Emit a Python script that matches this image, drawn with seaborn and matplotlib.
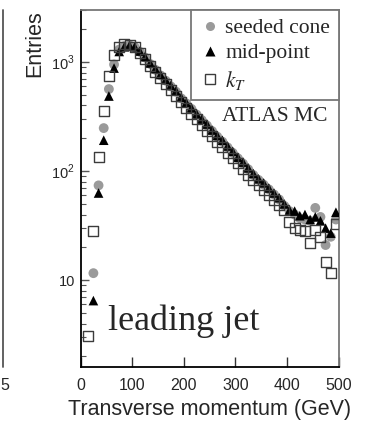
import numpy as np
import pandas as pd
import matplotlib
matplotlib.use("Agg")
import matplotlib.pyplot as plt
from matplotlib.lines import Line2D
from matplotlib.font_manager import FontProperties
import matplotlib.ticker as mticker
import seaborn as sns

# ---- data ----
pt_bins = [15, 25, 35, 45, 55, 65, 75, 85, 95, 105, 115, 125, 135, 145, 155, 165,
           175, 185, 195, 205, 215, 225, 235, 245, 255, 265, 275, 285, 295, 305,
           315, 325, 335, 345, 355, 365, 375, 385, 395, 405, 415, 425, 435, 445,
           455, 465, 475, 485, 495]

seeded_cone = [None, 11.6, 74, 248, 565, 950, 1300, 1400, 1420, 1370, 1240, 1100, 960,
               850, 755, 675, 598, 535, 465, 418, 372, 330, 294, 262, 233, 207, 186,
               165, 147, 131, 117, 104, 92, 83, 75, 68, 61, 55, 48, 43, 40, 37, 36,
               35, 46, 38, 21, 25, 36]

mid_point = [None, 6.5, 63, 192, 488, 880, 1250, 1380, 1420, 1380, 1260, 1120, 980,
             870, 770, 690, 610, 545, 475, 425, 380, 335, 300, 270, 238, 212, 192,
             170, 152, 134, 121, 107, 95, 85, 78, 70, 63, 57, 50, 44, 43, 39, 40,
             36, 38, 35, 30, 27, 42]

kt = [3.1, 28, 134, 355, 744, 1150, 1380, 1450, 1440, 1360, 1220, 1060, 920, 810,
      710, 630, 555, 490, 430, 380, 335, 298, 265, 235, 208, 185, 165, 148, 132,
      118, 104, 93, 83, 74, 67, 60, 54, 49, 44, 34, 30, 29, 28, 22, 29, 25, 14.6,
      11.6, 33]

series_labels = ["seeded cone", "mid-point", "$k_T$"]
x_ticks = [0, 100, 200, 300, 400, 500]
y_ticks = [10, 100, 1000]
y_ticklabels = ["10", "$10^{2}$", "$10^{3}$"]

# ---- figure ----
sns.set_style("ticks")
plt.rcParams["font.family"] = ["Liberation Sans", "DejaVu Sans"]
plt.rcParams["mathtext.fontset"] = "custom"
plt.rcParams["mathtext.rm"] = "Liberation Sans"

fig = plt.figure(figsize=(3.68, 4.25), dpi=100)
ax = fig.add_axes([80.5 / 368, 1 - 367 / 425, 258 / 368, 357 / 425])

df = pd.DataFrame({"pt": pt_bins, "cone": seeded_cone, "mid": mid_point, "kt": kt})

sns.scatterplot(data=df, x="pt", y="cone", ax=ax, marker="o", s=50,
                color="#9a9a9a", edgecolor="none", zorder=2)
sns.scatterplot(data=df, x="pt", y="mid", ax=ax, marker="^", s=48,
                color="black", edgecolor="none", zorder=3)
sns.scatterplot(data=df, x="pt", y="kt", ax=ax, marker="s", s=52,
                facecolors="none", edgecolor="#3c3c3c", linewidth=1.0, zorder=4)

ax.set_yscale("log")
ax.set_xlim(0, 500)
ax.set_ylim(1.6, 3000)
ax.set_xticks(x_ticks)
ax.set_xticklabels([str(t) for t in x_ticks])
ax.xaxis.set_minor_locator(mticker.NullLocator())
ax.yaxis.set_major_locator(mticker.FixedLocator(y_ticks))
ax.yaxis.set_major_formatter(mticker.FixedFormatter(y_ticklabels))
ax.yaxis.set_minor_locator(mticker.LogLocator(base=10, subs=np.arange(2, 10), numticks=20))
ax.yaxis.set_minor_formatter(mticker.NullFormatter())

ax.tick_params(axis="x", which="major", direction="in", length=7, width=1.0,
               labelsize=11.5, pad=8, top=False, color="#333")
ax.tick_params(axis="y", which="major", direction="in", length=6, width=1.0,
               labelsize=10.5, pad=4, right=False, color="#555")
ax.tick_params(axis="y", which="minor", direction="in", length=3.5, width=0.8,
               right=False, color="#555")

for side in ["left", "bottom"]:
    ax.spines[side].set_color("black")
    ax.spines[side].set_linewidth(1.3)
for side in ["top", "right"]:
    ax.spines[side].set_color("#777777")
    ax.spines[side].set_linewidth(1.3)

ax.set_xlabel("Transverse momentum (GeV)", fontsize=15.5, labelpad=4)
ax.set_ylabel("Entries", fontsize=15.5, loc="top")
ax.yaxis.set_label_coords(-0.176, 1.0)
ax.yaxis.label.set_verticalalignment("center")

# legend
handles = [
    Line2D([], [], linestyle="none", marker="o", markersize=6.5,
           markerfacecolor="#9a9a9a", markeredgecolor="none"),
    Line2D([], [], linestyle="none", marker="^", markersize=6.5,
           markerfacecolor="black", markeredgecolor="none"),
    Line2D([], [], linestyle="none", marker="s", markersize=6.5,
           markerfacecolor="none", markeredgecolor="#3c3c3c", markeredgewidth=1.0),
]
leg_font = FontProperties(family="Liberation Serif", size=15.5, math_fontfamily="stix")
leg = ax.legend(handles, series_labels, loc="upper right", prop=leg_font,
                frameon=True, fancybox=False, borderaxespad=0.0, borderpad=0.38,
                handlelength=1.0, handletextpad=0.2, labelspacing=0.24)
leg.get_frame().set_edgecolor("#777777")
leg.get_frame().set_linewidth(1.3)
leg.get_frame().set_alpha(1)

ax.text(0.754, 0.703, "ATLAS MC", transform=ax.transAxes, ha="center", va="center",
        fontsize=15.5, family="Liberation Serif")
ax.text(0.401, 0.1036, "leading jet", transform=ax.transAxes, ha="center",
        va="baseline", fontsize=26, family="Liberation Serif")

# edge of the neighbouring panel (cropped in the reference)
fig.add_artist(Line2D([2.5 / 368, 2.5 / 368], [1 - 10 / 425, 1 - 367 / 425],
                      transform=fig.transFigure, color="#555555", linewidth=1.3))
fig.text(0.0 / 368, 1 - 386 / 425, "5", ha="left", va="center", fontsize=11.5)

fig.savefig("out.png", dpi=100)
